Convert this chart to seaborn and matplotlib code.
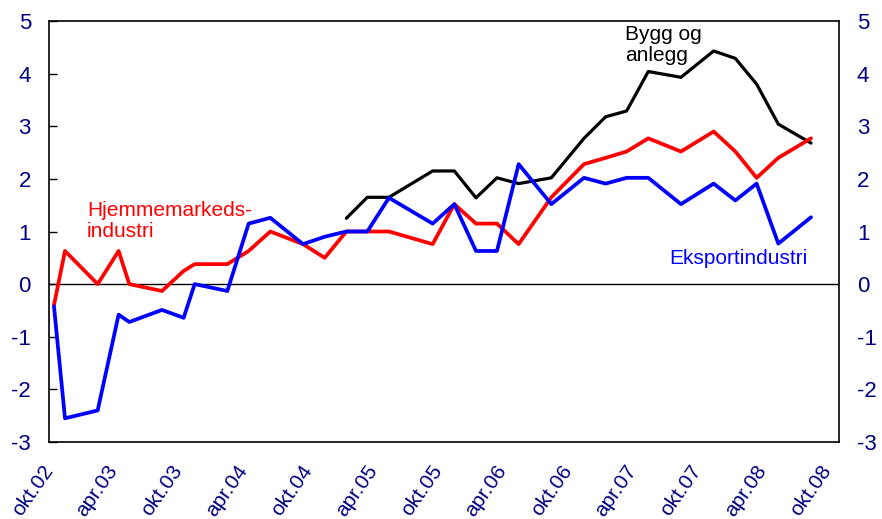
import pandas as pd
import matplotlib.pyplot as plt
import seaborn as sns

# Survey months (points drawn mid-month)
months = ['2002-10', '2002-11', '2003-02', '2003-04', '2003-05', '2003-08',
          '2003-10', '2003-11', '2004-02', '2004-04', '2004-06', '2004-09',
          '2004-11', '2005-01', '2005-03', '2005-05', '2005-09', '2005-11',
          '2006-01', '2006-03', '2006-05', '2006-08', '2006-11', '2007-01',
          '2007-03', '2007-05', '2007-08', '2007-11', '2008-01', '2008-03',
          '2008-05', '2008-08']

hjemme = [-0.40, 0.63, 0.00, 0.63, 0.00, -0.13, 0.25, 0.38, 0.38, 0.63, 1.00, 0.76,
          0.50, 1.00, 1.00, 1.00, 0.76, 1.52, 1.15, 1.15, 0.76, 1.65, 2.28, 2.40,
          2.52, 2.77, 2.52, 2.90, 2.52, 2.02, 2.40, 2.77]

eksport = [-0.42, -2.55, -2.40, -0.58, -0.72, -0.49, -0.64, 0.00, -0.13, 1.15, 1.26, 0.76,
           0.90, 1.00, 1.00, 1.64, 1.15, 1.52, 0.63, 0.63, 2.28, 1.52, 2.02, 1.91,
           2.02, 2.02, 1.52, 1.91, 1.59, 1.91, 0.77, 1.27]

# Bygg og anlegg starts in jan. 2005
bygg_months = months[13:]
bygg = [1.25, 1.65, 1.65, 2.15, 2.15, 1.64, 2.02, 1.91, 2.02, 2.77, 3.18,
        3.29, 4.04, 3.93, 4.43, 4.29, 3.80, 3.04, 2.68]

tick_dates = ['2002-10-01', '2003-04-01', '2003-10-01', '2004-04-01', '2004-10-01',
              '2005-04-01', '2005-10-01', '2006-04-01', '2006-10-01', '2007-04-01',
              '2007-10-01', '2008-04-01', '2008-10-01']
tick_labels = ['okt.02', 'apr.03', 'okt.03', 'apr.04', 'okt.04', 'apr.05', 'okt.05',
               'apr.06', 'okt.06', 'apr.07', 'okt.07', 'apr.08', 'okt.08']
y_ticks = [-3, -2, -1, 0, 1, 2, 3, 4, 5]

dates = pd.to_datetime([m + '-15' for m in months])
bygg_dates = pd.to_datetime([m + '-15' for m in bygg_months])

sns.set_style('white')
plt.rcParams['font.family'] = ['Liberation Sans', 'DejaVu Sans']
navy = '#000080'

fig = plt.figure(figsize=(8.82, 5.19), dpi=100)
ax = fig.add_axes([49 / 882, 1 - 442 / 519, 789.7 / 882, 421 / 519])

ax.axhline(0, color='black', lw=1, zorder=1)
sns.lineplot(x=dates, y=hjemme, color='#ff0000', lw=2.7, ax=ax, zorder=3)
sns.lineplot(x=dates, y=eksport, color='#0000ff', lw=2.7, ax=ax, zorder=4)
sns.lineplot(x=bygg_dates, y=bygg, color='black', lw=2.3, ax=ax, zorder=2)

ax.set_xlim(pd.Timestamp('2002-10-01'), pd.Timestamp('2008-11-01'))
ax.set_ylim(-3, 5)
ax.set_xticks(pd.to_datetime(tick_dates))
ax.set_xticklabels(tick_labels, rotation=55, ha='right', va='center',
                   rotation_mode='anchor', color=navy, fontsize=15)
ax.set_yticks(y_ticks)
ax.set_yticklabels([str(v) for v in y_ticks], color=navy, fontsize=16)
ax.tick_params(axis='x', direction='in', length=5, width=1, pad=18, colors='black',
               labelcolor=navy)
ax.tick_params(axis='y', direction='in', length=6, width=1, pad=13, colors='black',
               labelcolor=navy)
ax.set_xlabel('')
ax.set_ylabel('')
for s in ax.spines.values():
    s.set_color('black')
    s.set_linewidth(1.2)

# Right axis mirrors the left one
ax2 = ax.twinx()
ax2.set_ylim(-3, 5)
ax2.set_yticks(y_ticks)
ax2.set_yticklabels([str(v) for v in y_ticks], color=navy, fontsize=16)
ax2.tick_params(axis='y', length=0, pad=13, labelcolor=navy)
for s in ax2.spines.values():
    s.set_visible(False)

ax.text(0.048, 0.572, 'Hjemmemarkeds-\nindustri', transform=ax.transAxes,
        color='#ff0000', fontsize=15, va='top', ha='left', linespacing=1.15)
ax.text(0.729, 0.99, 'Bygg og\nanlegg', transform=ax.transAxes,
        color='black', fontsize=15, va='top', ha='left', linespacing=1.15)
ax.text(0.786, 0.437, 'Eksportindustri', transform=ax.transAxes,
        color='#0000ff', fontsize=15, va='center', ha='left')

plt.savefig('out.png', dpi=100)
